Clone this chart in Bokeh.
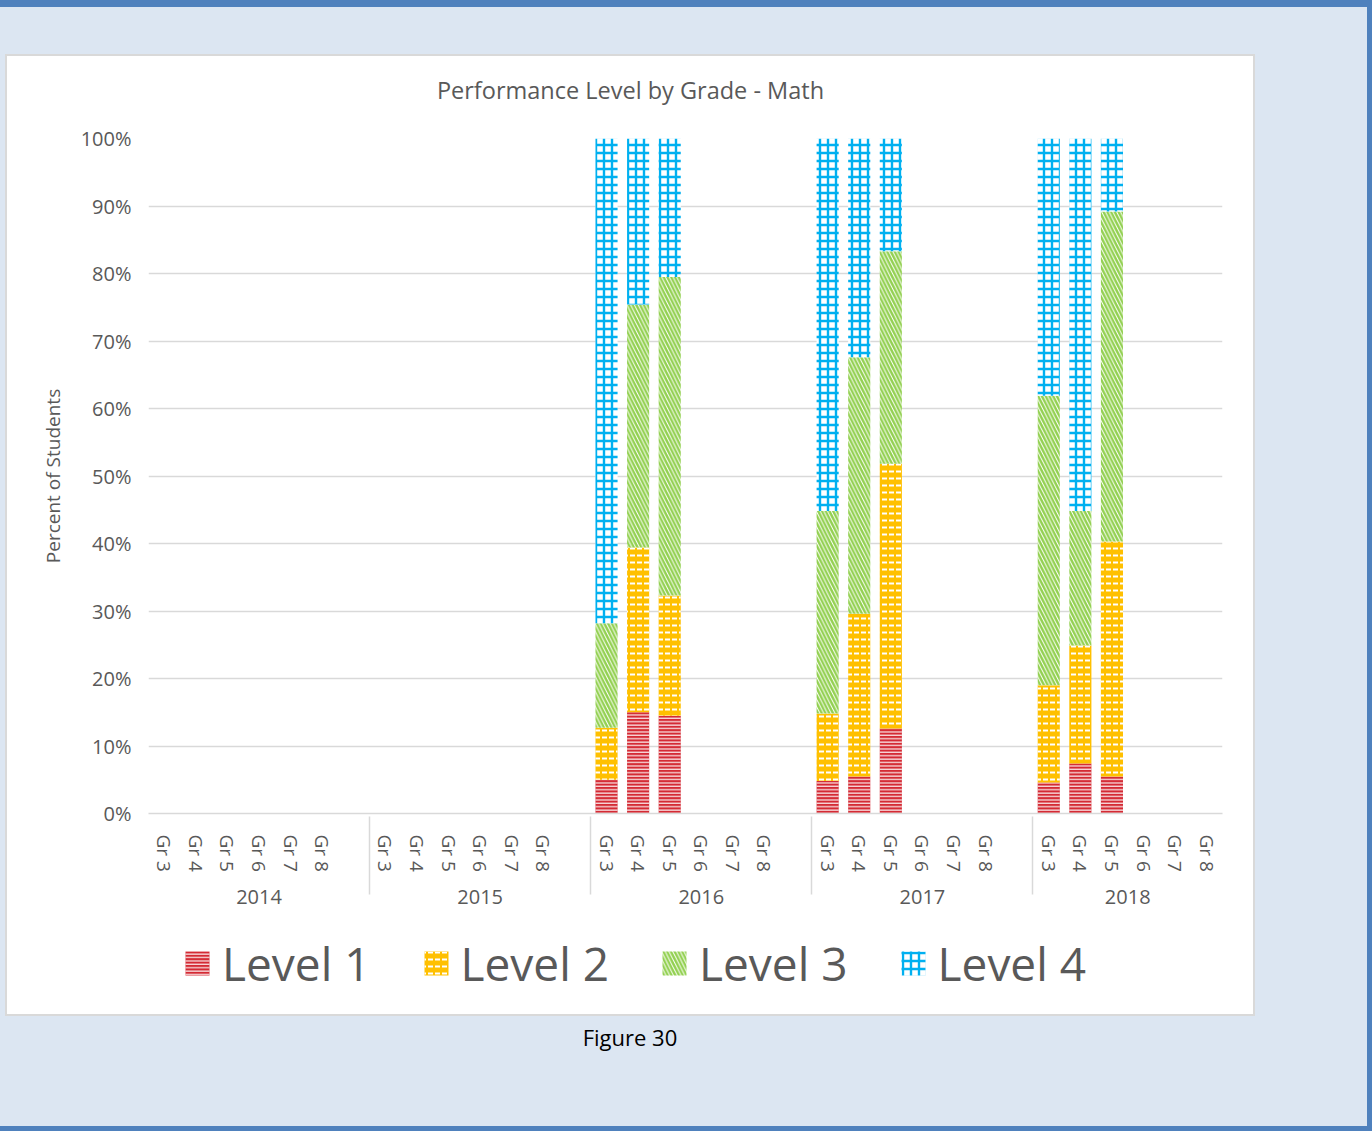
from bokeh.plotting import figure
from bokeh.models import (FactorRange, Range1d, FixedTicker, NumeralTickFormatter,
                          Legend, LegendItem, Div, ColumnDataSource, Label)
from bokeh.layouts import column
from bokeh.embed import file_html
from bokeh.resources import INLINE

# Axis categories
years = ["2014", "2015", "2016", "2017", "2018"]
grades = ["Gr 3", "Gr 4", "Gr 5", "Gr 6", "Gr 7", "Gr 8"]

# Tested grades (only 2016-2018 have results)
bar_years = ["2016", "2016", "2016", "2017", "2017", "2017", "2018", "2018", "2018"]
bar_grades = ["Gr 3", "Gr 4", "Gr 5", "Gr 3", "Gr 4", "Gr 5", "Gr 3", "Gr 4", "Gr 5"]

# Share of students at each performance level (percent)
level1 = [5.0, 15.0, 14.5, 4.8, 5.5, 12.6, 4.6, 7.4, 5.5]
level2 = [7.7, 24.4, 17.8, 10.0, 24.1, 39.2, 14.4, 17.5, 34.8]
level3 = [15.5, 36.0, 47.2, 30.0, 38.0, 31.5, 42.9, 19.9, 48.9]
level4 = [71.8, 24.6, 20.5, 55.2, 32.4, 16.7, 38.1, 55.2, 10.8]

level_names = ["Level 1", "Level 2", "Level 3", "Level 4"]
chart_title = "Performance Level by Grade - Math"

FONT = "Open Sans"
TEXT = "#595959"
GRID = "#D9D9D9"
W = 1246            # chart box width
LEFT, RIGHT = 141, 31

# fill / hatch styling of the four levels
STYLE = dict(
    fill_color=["#D42A34", "#FFC000", "white", "white"],
    hatch_pattern=["horizontal_line", "horizontal_dash", "left_diagonal_line", "cross"],
    hatch_color=["white", "white", "#92D050", "#00B0F0"],
    hatch_scale=[3.4, 7.0, 7.5, 8.0],
    hatch_weight=[1.1, 2.0, 2.4, 2.4],
)

# an empty slot closes every year group except the last one
factors = []
for i, yr in enumerate(years):
    for g in grades:
        factors.append((yr, g))
    if i < len(years) - 1:
        factors.append((yr, " "))

src = ColumnDataSource(dict(
    x=list(zip(bar_years, bar_grades)),
    l1=[v / 100 for v in level1],
    l2=[v / 100 for v in level2],
    l3=[v / 100 for v in level3],
    l4=[v / 100 for v in level4],
))


def strip(height, x_range, y_range):
    s = figure(width=W, height=height, x_range=x_range, y_range=y_range,
               output_backend="svg", toolbar_location=None,
               x_axis_type=None, y_axis_type=None,
               min_border_left=LEFT, min_border_right=RIGHT,
               min_border_top=0, min_border_bottom=0,
               outline_line_color=None,
               background_fill_color="white", border_fill_color="white")
    s.grid.visible = False
    return s


# ---- title strip
ts = strip(68, Range1d(LEFT, W - RIGHT), Range1d(0, 68))
ts.add_layout(Label(x=W / 2, y=35, text=chart_title, text_align="center",
                    text_baseline="middle", text_font=FONT, text_font_size="23.5px",
                    text_color=TEXT))

# ---- main chart
p = figure(
    x_range=FactorRange(*factors, group_padding=0, range_padding=0),
    y_range=Range1d(0, 1),
    width=W, height=792,
    output_backend="svg", toolbar_location=None,
    min_border_left=LEFT, min_border_right=RIGHT,
    min_border_top=14, min_border_bottom=103,
    background_fill_color="white", border_fill_color="white",
    outline_line_color=None,
)

p.vbar_stack(["l1", "l2", "l3", "l4"], x="x", width=0.7, source=src,
             line_color=None, **STYLE)

# y axis
p.yaxis.ticker = FixedTicker(ticks=[i / 10 for i in range(11)])
p.yaxis.formatter = NumeralTickFormatter(format="0%")
p.yaxis.axis_line_color = None
p.yaxis.major_tick_line_color = None
p.yaxis.minor_tick_line_color = None
p.yaxis.major_label_standoff = 11
p.yaxis.major_label_text_font = FONT
p.yaxis.major_label_text_font_size = "20px"
p.yaxis.major_label_text_color = TEXT
p.yaxis.axis_label = "Percent of Students"
p.yaxis.axis_label_text_font = FONT
p.yaxis.axis_label_text_font_size = "19px"
p.yaxis.axis_label_text_font_style = "normal"
p.yaxis.axis_label_text_color = TEXT
p.yaxis.axis_label_standoff = 12

p.ygrid.grid_line_color = GRID
p.ygrid.grid_line_width = 1.3
p.xgrid.grid_line_color = None

# x axis (grade inside year)
xa = p.xaxis[0]
xa.axis_line_color = GRID
xa.axis_line_width = 1.3
xa.major_tick_line_color = None
xa.minor_tick_line_color = None
xa.major_label_orientation = "vertical"
xa.major_label_standoff = 15
xa.major_label_text_font = FONT
xa.major_label_text_font_size = "19px"
xa.major_label_text_color = TEXT
xa.group_text_font = FONT
xa.group_text_font_size = "20px"
xa.group_text_font_style = "normal"
xa.group_text_color = TEXT
xa.group_label_orientation = "horizontal"
xa.separator_line_color = GRID
xa.separator_line_width = 1.5

# ---- legend strip: same bars, scrolled out of view, supply the swatches
lf = strip(98, FactorRange(*factors, group_padding=0, range_padding=0), Range1d(5, 6))
swatches = lf.vbar_stack(["l1", "l2", "l3", "l4"], x="x", width=0.7, source=src,
                         line_color=None, **STYLE)

legend = Legend(
    items=[LegendItem(label=n, renderers=[r]) for n, r in zip(level_names, swatches)],
    orientation="horizontal", location=(175 - LEFT, 20),
    label_text_font=FONT, label_text_font_size="46px", label_text_color=TEXT,
    glyph_width=30, glyph_height=30, label_standoff=10, spacing=50,
    border_line_color=None, background_fill_alpha=0, padding=0, margin=0,
)
lf.add_layout(legend, "center")

chart = column(
    ts, p, lf, width=W, height=958,
    margin=(56, 0, 0, 7),
    styles={"outline": "2px solid #D9D9D9", "background-color": "white"},
)

caption = Div(
    text="Figure 30", width=W, margin=(8, 0, 0, 7),
    styles={"text-align": "center", "font-family": "Open Sans",
            "font-size": "22px", "color": "#000000"},
)

page = column(
    chart, caption, width=1372, height=1131, sizing_mode="fixed",
    styles={"background-color": "#DCE6F2",
            "box-shadow": "inset 0 7px 0 #4F81BD, inset -5px 0 0 #4F81BD, inset 0 -5px 0 #4F81BD"},
)

open("out.html", "w").write(file_html(page, INLINE))
